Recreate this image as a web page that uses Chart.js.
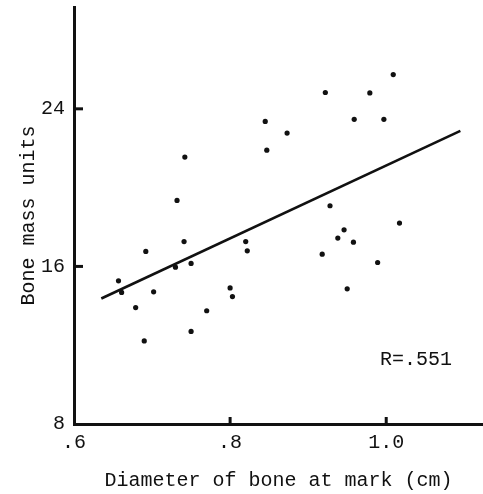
<!DOCTYPE html>
<html>
<head>
<meta charset="utf-8">
<script src="https://cdn.jsdelivr.net/npm/chart.js@4"></script>
<style>
  html, body { margin: 0; padding: 0; background: #fff; }
  #wrap { width: 483px; height: 494px; }
</style>
</head>
<body>
<div id="wrap"><canvas id="boneChart"></canvas></div>
<script>
// diameter of bone at mark (cm) vs bone mass units
const diameter = [0.845, 0.847, 0.742, 0.732, 1.009, 0.922, 0.979, 0.959, 0.997, 0.873, 0.928,
                  0.741, 0.692, 0.820, 0.822, 0.730, 0.750, 0.657, 0.661, 0.702, 0.800, 0.803,
                  0.679, 0.770, 0.750, 0.690, 1.017, 0.946, 0.938, 0.958, 0.918, 0.989, 0.950];
const boneMass = [23.36, 21.90, 21.55, 19.35, 25.74, 24.83, 24.81, 23.47, 23.47, 22.77, 19.08,
                  17.26, 16.76, 17.26, 16.79, 15.96, 16.15, 15.27, 14.68, 14.71, 14.91, 14.47,
                  13.91, 13.75, 12.70, 12.22, 18.20, 17.86, 17.44, 17.23, 16.62, 16.20, 14.86];

// regression line end points
const fitX = [0.635, 1.095];
const fitY = [14.37, 22.88];

const xTicks = [0.6, 0.8, 1.0];
const xTickLabels = ['.6', '.8', '1.0'];
const yTicks = [8, 16, 24];
const yTickLabels = ['8', '16', '24'];

const rLabel = 'R=.551';
const rAt = { x: 0.992, y: 11.26 };

const FONT = "'Liberation Mono', 'Courier New', monospace";
const INK = '#111';

const points = diameter.map((d, i) => ({ x: d, y: boneMass[i] }));
const fitLine = fitX.map((d, i) => ({ x: d, y: fitY[i] }));

// inward tick marks + the R annotation
const extras = {
    id: 'extras',
    afterDatasetsDraw(chart) {
        const c = chart.ctx;
        const xs = chart.scales.x, ys = chart.scales.y;
        const left = xs.getPixelForValue(xs.min);
        const bottom = ys.getPixelForValue(ys.min);
        c.save();
        c.strokeStyle = INK;
        c.lineWidth = 3;
        c.lineCap = 'butt';
        yTicks.forEach(v => {
            if (v === ys.min) return;
            const py = ys.getPixelForValue(v);
            c.beginPath(); c.moveTo(left, py); c.lineTo(left + 9, py); c.stroke();
        });
        xTicks.forEach(v => {
            if (v === xs.min) return;
            const px = xs.getPixelForValue(v);
            c.beginPath(); c.moveTo(px, bottom); c.lineTo(px, bottom - 7); c.stroke();
        });
        c.fillStyle = INK;
        c.font = '20px ' + FONT;
        c.textAlign = 'left';
        c.textBaseline = 'middle';
        c.fillText(rLabel, xs.getPixelForValue(rAt.x), ys.getPixelForValue(rAt.y));
        c.restore();
    }
};

new Chart(document.getElementById('boneChart').getContext('2d'), {
    type: 'scatter',
    data: {
        datasets: [
            { data: points, backgroundColor: INK, borderColor: INK, pointRadius: 2.6, pointBorderWidth: 0 },
            { type: 'line', data: fitLine, borderColor: INK, borderWidth: 2.6, pointRadius: 0, fill: false }
        ]
    },
    options: {
        responsive: true,
        maintainAspectRatio: false,
        animation: false,
        layout: { autoPadding: false, padding: { top: 7, left: 0, right: 0, bottom: 0 } },
        plugins: { legend: { display: false }, tooltip: { enabled: false } },
        scales: {
            x: {
                type: 'linear', min: 0.6, max: 1.124,
                afterBuildTicks: s => { s.ticks = xTicks.map(v => ({ value: v })); },
                afterFit: s => { s.height = 70; s.paddingLeft = 0; s.paddingRight = 0; },
                grid: { display: false, drawTicks: false },
                border: { display: true, color: INK, width: 3 },
                ticks: {
                    color: INK, font: { family: FONT, size: 20 }, padding: 7, maxRotation: 0,
                    callback: v => xTickLabels[xTicks.indexOf(v)]
                },
                title: { display: true, text: 'Diameter of bone at mark (cm)', color: INK,
                         font: { family: FONT, size: 20 }, padding: { top: 0, bottom: 1 } }
            },
            y: {
                type: 'linear', min: 8, max: 29.17,
                afterBuildTicks: s => { s.ticks = yTicks.map(v => ({ value: v })); },
                afterFit: s => { s.width = 74; s.paddingTop = 0; s.paddingBottom = 0; },
                grid: { display: false, drawTicks: false },
                border: { display: true, color: INK, width: 3 },
                ticks: {
                    color: INK, font: { family: FONT, size: 20 }, padding: 9,
                    callback: v => yTickLabels[yTicks.indexOf(v)]
                },
                title: { display: true, text: 'Bone mass units', color: INK,
                         font: { family: FONT, size: 20 }, padding: { top: 17, bottom: 0 } }
            }
        }
    },
    plugins: [extras]
});
</script>
</body>
</html>
